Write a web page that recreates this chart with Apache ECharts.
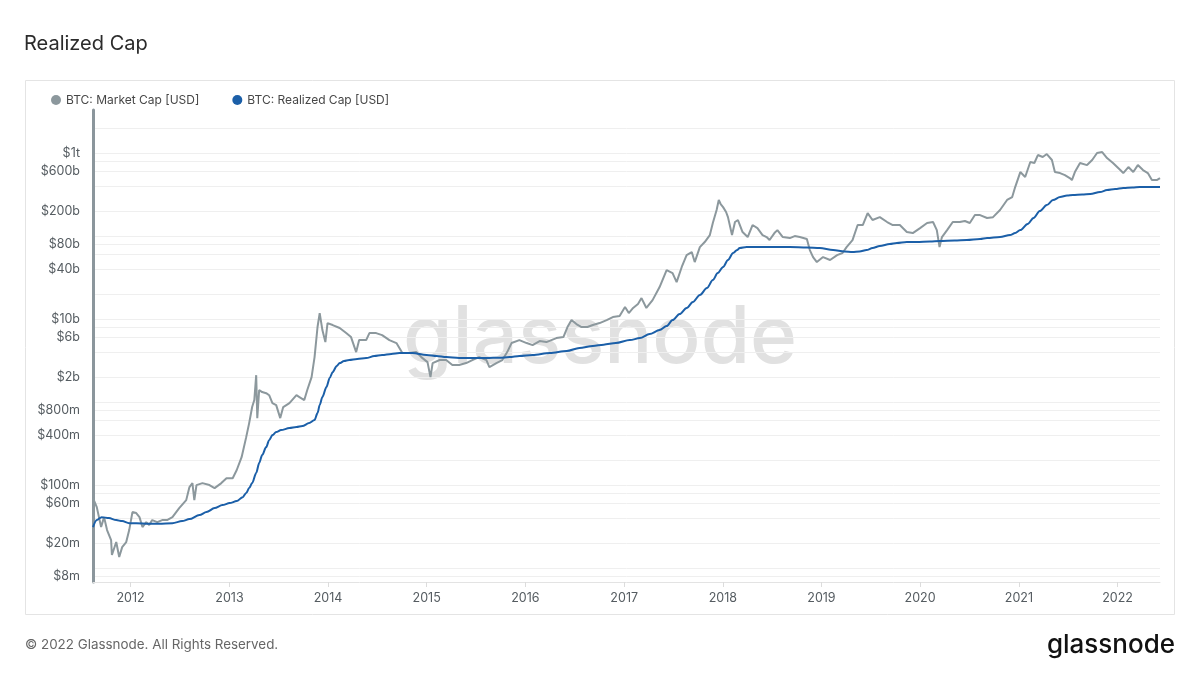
<!DOCTYPE html>
<html>
<head>
<meta charset="utf-8">
<script src="https://cdn.jsdelivr.net/npm/echarts@6/dist/echarts.min.js"></script>
<style>
  html, body { margin: 0; padding: 0; background: #ffffff; }
  #chart { width: 1200px; height: 675px; }
</style>
</head>
<body>
<div id="chart"></div>
<script>
// ---- Data ----
const mcDates = [
  '2011-08-15','2011-08-19','2011-08-29','2011-09-14','2011-09-25','2011-10-06','2011-10-21','2011-10-24','2011-11-09','2011-11-20',
  '2011-12-01','2011-12-16','2011-12-27','2012-01-08','2012-01-22','2012-02-03','2012-02-14','2012-02-28','2012-03-10','2012-03-21',
  '2012-04-09','2012-04-27','2012-05-15','2012-06-04','2012-06-29','2012-07-25','2012-08-06','2012-08-17','2012-08-24','2012-09-01',
  '2012-09-23','2012-10-19','2012-11-07','2012-12-02','2012-12-21','2013-01-13','2013-01-28','2013-02-15','2013-03-04','2013-03-15',
  '2013-03-26','2013-04-03','2013-04-10','2013-04-14','2013-04-21','2013-05-02','2013-05-17','2013-05-28','2013-06-09','2013-06-23',
  '2013-07-08','2013-07-19','2013-08-11','2013-09-06','2013-09-17','2013-10-05','2013-10-16','2013-11-01','2013-11-12','2013-11-23',
  '2013-12-01','2013-12-11','2013-12-22','2013-12-30','2014-01-18','2014-02-13','2014-03-09','2014-03-27','2014-04-15','2014-04-26',
  '2014-05-22','2014-06-03','2014-06-28','2014-07-20','2014-08-16','2014-09-11','2014-10-03','2014-10-29','2014-11-24','2014-12-12',
  '2015-01-04','2015-01-15','2015-01-23','2015-02-18','2015-03-14','2015-04-06','2015-05-01','2015-05-27','2015-06-19','2015-07-14',
  '2015-08-10','2015-08-21','2015-09-16','2015-10-08','2015-10-26','2015-11-11','2015-12-10','2016-01-06','2016-01-28','2016-02-23',
  '2016-03-19','2016-04-25','2016-05-21','2016-06-05','2016-06-20','2016-07-08','2016-07-27','2016-08-18','2016-09-07','2016-10-02',
  '2016-10-28','2016-11-20','2016-12-15','2017-01-04','2017-01-18','2017-02-03','2017-02-21','2017-03-06','2017-03-24','2017-04-16',
  '2017-05-12','2017-06-07','2017-06-29','2017-07-14','2017-08-02','2017-08-20','2017-09-08','2017-09-19','2017-10-08','2017-10-26',
  '2017-11-14','2017-11-25','2017-12-09','2017-12-17','2017-12-24','2018-01-02','2018-01-13','2018-01-20','2018-02-04','2018-02-15',
  '2018-02-26','2018-03-15','2018-04-03','2018-04-21','2018-05-09','2018-05-28','2018-06-12','2018-06-23','2018-07-11','2018-07-22',
  '2018-08-11','2018-09-06','2018-09-24','2018-10-13','2018-11-08','2018-11-19','2018-12-01','2018-12-15','2019-01-07','2019-02-02',
  '2019-02-28','2019-03-20','2019-04-04','2019-04-26','2019-05-15','2019-06-03','2019-06-21','2019-07-09','2019-08-05','2019-09-01',
  '2019-09-22','2019-10-18','2019-11-13','2019-12-05','2020-01-01','2020-01-27','2020-02-18','2020-03-03','2020-03-13','2020-03-22',
  '2020-04-10','2020-05-01','2020-05-27','2020-06-15','2020-07-03','2020-07-22','2020-08-10','2020-09-05','2020-09-27','2020-10-23',
  '2020-11-18','2020-12-07','2020-12-18','2021-01-06','2021-01-24','2021-02-12','2021-02-27','2021-03-12','2021-03-30','2021-04-14',
  '2021-05-03','2021-05-14','2021-06-02','2021-06-20','2021-07-08','2021-07-16','2021-07-27','2021-08-15','2021-09-10','2021-09-29',
  '2021-10-17','2021-11-05','2021-11-23','2021-12-15','2022-01-11','2022-01-22','2022-02-10','2022-02-28','2022-03-17','2022-04-05',
  '2022-04-23','2022-05-08','2022-05-26','2022-06-07'
];
const mcValues = [
  6.97e7,7.16e7,5.43e7,3.12e7,4.11e7,2.87e7,2.17e7,1.44e7,2.06e7,1.36e7,
  1.79e7,2.06e7,2.87e7,4.73e7,4.60e7,4.11e7,3.12e7,3.58e7,3.30e7,3.79e7,
  3.58e7,3.79e7,3.79e7,4.11e7,5.28e7,6.59e7,9.46e7,1.057e8,6.59e7,1.0e8,
  1.057e8,1.0e8,9.20e7,1.057e8,1.21e8,1.21e8,1.52e8,2.17e8,3.78e8,5.58e8,
  8.71e8,1.057e9,2.11e9,6.41e8,1.40e9,1.32e9,1.28e9,1.21e9,9.73e8,9.20e8,
  6.41e8,8.71e8,9.73e8,1.21e9,1.15e9,1.057e9,1.40e9,2.00e9,3.48e9,8.02e9,
  1.18e10,7.37e9,5.28e9,8.95e9,8.47e9,7.80e9,6.78e9,6.07e9,4.00e9,5.58e9,
  5.58e9,6.78e9,6.78e9,6.41e9,5.58e9,5.14e9,3.89e9,3.89e9,4.00e9,3.48e9,
  3.03e9,2.00e9,2.95e9,3.21e9,3.21e9,2.79e9,2.79e9,2.95e9,3.21e9,3.48e9,
  3.21e9,2.64e9,2.95e9,3.21e9,4.00e9,5.14e9,5.58e9,5.14e9,4.86e9,5.43e9,
  5.28e9,5.90e9,6.07e9,8.02e9,9.72e9,8.71e9,8.02e9,8.02e9,8.47e9,8.95e9,
  9.72e9,1.057e10,1.086e10,1.40e10,1.18e10,1.36e10,1.52e10,1.79e10,1.36e10,1.69e10,
  2.43e10,3.89e10,3.58e10,2.79e10,4.24e10,5.90e10,6.41e10,4.86e10,7.36e10,8.47e10,
  1.028e11,1.435e11,2.06e11,2.72e11,2.43e11,2.23e11,1.95e11,1.69e11,1.028e11,1.475e11,
  1.56e11,1.117e11,9.73e10,1.358e11,1.248e11,1.028e11,9.73e10,8.95e10,1.086e11,1.18e11,
  9.73e10,9.46e10,1.0e11,9.73e10,9.20e10,6.78e10,5.58e10,4.86e10,5.58e10,5.14e10,
  5.90e10,6.24e10,7.36e10,8.95e10,1.358e11,1.358e11,1.89e11,1.56e11,1.69e11,1.475e11,
  1.358e11,1.358e11,1.117e11,1.086e11,1.248e11,1.435e11,1.475e11,1.18e11,7.36e10,9.73e10,
  1.18e11,1.475e11,1.475e11,1.52e11,1.435e11,1.79e11,1.79e11,1.65e11,1.69e11,2.06e11,
  2.72e11,2.95e11,3.89e11,5.90e11,5.14e11,7.80e11,7.59e11,9.46e11,8.95e11,9.72e11,
  8.24e11,5.90e11,5.74e11,5.43e11,5.00e11,4.73e11,5.90e11,7.59e11,7.16e11,8.24e11,
  1.0e12,1.028e12,8.71e11,7.59e11,6.24e11,5.74e11,6.78e11,5.90e11,7.16e11,6.24e11,
  5.74e11,4.73e11,4.73e11,5.00e11
];
const rcDates = [
  '2011-08-15','2011-08-29','2011-09-16','2011-10-13','2011-11-09','2011-12-01','2011-12-27','2012-01-22','2012-03-10','2012-04-16',
  '2012-06-04','2012-07-10','2012-08-06','2012-09-12','2012-10-08','2012-11-07','2012-12-06','2013-01-02','2013-01-28','2013-02-19',
  '2013-03-04','2013-03-15','2013-03-26','2013-04-10','2013-04-21','2013-05-02','2013-05-17','2013-05-28','2013-06-09','2013-06-23',
  '2013-07-11','2013-08-11','2013-09-06','2013-09-28','2013-10-23','2013-11-12','2013-11-23','2013-12-01','2013-12-11','2013-12-26',
  '2014-01-07','2014-01-18','2014-02-02','2014-02-13','2014-03-01','2014-03-20','2014-04-19','2014-05-22','2014-06-21','2014-07-20',
  '2014-08-23','2014-09-22','2014-11-09','2015-01-01','2015-02-07','2015-03-14','2015-05-01','2015-06-19','2015-08-10','2015-09-27',
  '2015-11-04','2015-12-10','2016-01-28','2016-04-01','2016-06-02','2016-07-19','2016-09-07','2016-10-17','2016-12-01','2017-01-22',
  '2017-02-28','2017-04-05','2017-05-12','2017-06-07','2017-06-29','2017-07-25','2017-08-20','2017-09-12','2017-10-08','2017-11-03',
  '2017-11-25','2017-12-13','2018-01-02','2018-01-20','2018-02-08','2018-02-23','2018-03-04','2018-03-30','2018-05-17','2018-07-04',
  '2018-09-06','2018-11-08','2018-12-26','2019-02-13','2019-03-27','2019-04-26','2019-05-22','2019-06-17','2019-07-09','2019-08-05',
  '2019-09-11','2019-10-07','2019-11-13','2019-12-20','2020-02-07','2020-03-14','2020-05-08','2020-06-22','2020-08-10','2020-09-05',
  '2020-10-23','2020-11-29','2020-12-18','2021-01-06','2021-02-02','2021-02-24','2021-03-19','2021-04-14','2021-05-07','2021-06-02',
  '2021-06-28','2021-07-20','2021-08-23','2021-09-22','2021-10-28','2021-11-23','2021-12-23','2022-01-22','2022-02-25','2022-03-24',
  '2022-05-01','2022-06-07'
];
const rcValues = [
  3.12e7,3.79e7,4.11e7,4.0e7,3.79e7,3.68e7,3.48e7,3.48e7,3.43e7,3.43e7,
  3.48e7,3.68e7,3.89e7,4.36e7,4.73e7,5.28e7,5.74e7,6.07e7,6.41e7,7.16e7,
  8.02e7,9.20e7,1.057e8,1.40e8,1.84e8,2.30e8,2.87e8,3.48e8,4.00e8,4.36e8,
  4.60e8,4.86e8,5.00e8,5.14e8,5.58e8,6.07e8,7.37e8,9.20e8,1.15e9,1.52e9,
  1.95e9,2.30e9,2.72e9,2.95e9,3.12e9,3.21e9,3.30e9,3.39e9,3.58e9,3.68e9,
  3.79e9,3.89e9,3.89e9,3.68e9,3.58e9,3.48e9,3.39e9,3.39e9,3.39e9,3.43e9,
  3.48e9,3.58e9,3.68e9,3.89e9,4.11e9,4.48e9,4.73e9,4.92e9,5.14e9,5.58e9,
  5.90e9,6.59e9,7.37e9,8.24e9,9.72e9,1.148e10,1.36e10,1.60e10,1.95e10,2.36e10,
  2.95e10,3.58e10,4.24e10,5.14e10,6.24e10,6.78e10,7.16e10,7.36e10,7.36e10,7.36e10,
  7.36e10,7.26e10,7.16e10,6.78e10,6.5e10,6.41e10,6.5e10,6.78e10,7.16e10,7.59e10,
  8.02e10,8.24e10,8.47e10,8.47e10,8.6e10,8.71e10,8.83e10,8.95e10,9.20e10,9.46e10,
  9.73e10,1.028e11,1.086e11,1.18e11,1.396e11,1.65e11,2.00e11,2.36e11,2.72e11,2.95e11,
  3.08e11,3.12e11,3.16e11,3.21e11,3.39e11,3.58e11,3.68e11,3.79e11,3.84e11,3.89e11,
  3.89e11,3.89e11
];
const yLabelValues = [8e6, 2e7, 6e7, 1e8, 4e8, 8e8, 2e9, 6e9, 1e10, 4e10, 8e10, 2e11, 6e11, 1e12];
const yGridValues = [
  8e6, 1e7, 2e7, 4e7, 6e7, 8e7, 1e8, 2e8, 4e8, 6e8, 8e8, 1e9, 2e9, 4e9, 6e9, 8e9,
  1e10, 2e10, 4e10, 6e10, 8e10, 1e11, 2e11, 4e11, 6e11, 8e11, 1e12, 2e12
];
const seriesNames = ['BTC: Market Cap [USD]', 'BTC: Realized Cap [USD]'];

// ---- Build ----
const zip = (d, v) => d.map((t, i) => [t, v[i]]);
function fmtUsd(v) {
  if (v >= 1e12) return '$' + Math.round(v / 1e12) + 't';
  if (v >= 1e9) return '$' + Math.round(v / 1e9) + 'b';
  return '$' + Math.round(v / 1e6) + 'm';
}
const FONT = 'Inter, "Noto Sans", sans-serif';
const YEAR_MS = 365 * 24 * 3600 * 1000;
const chart = echarts.init(document.getElementById('chart'), null, { renderer: 'canvas' });
chart.setOption({
  animation: false,
  backgroundColor: '#ffffff',
  textStyle: { fontFamily: FONT },
  title: {
    text: 'Realized Cap',
    left: 19, top: 29,
    textStyle: { fontFamily: FONT, fontSize: 20, fontWeight: 'normal', color: '#2b2b2b' }
  },
  legend: {
    left: 46, top: 89,
    icon: 'circle', itemWidth: 10, itemHeight: 10, itemGap: 33,
    textStyle: { fontFamily: FONT, fontSize: 12, color: '#474747' },
    data: seriesNames
  },
  grid: { left: 93, right: 40, top: 110, bottom: 93, containLabel: false },
  xAxis: {
    type: 'time',
    min: mcDates[0], max: mcDates[mcDates.length - 1],
    minInterval: YEAR_MS, maxInterval: YEAR_MS + 2 * 24 * 3600 * 1000,
    axisLine: { show: true, lineStyle: { color: '#e3e3e3', width: 1 } },
    axisTick: { show: true, length: 5, lineStyle: { color: '#dcdcdc' } },
    axisLabel: {
      formatter: '{yyyy}',
      color: '#555c61', fontSize: 12.5, fontFamily: FONT, margin: 10,
      showMinLabel: false, showMaxLabel: false
    },
    splitLine: { show: false }
  },
  yAxis: {
    type: 'log', logBase: 10,
    min: 6.8e6, max: 3.3e12,
    axisLine: { show: true, lineStyle: { color: '#8b969c', width: 3 } },
    axisTick: { show: false, customValues: yGridValues },
    axisLabel: {
      customValues: yLabelValues,
      formatter: fmtUsd,
      color: '#555c61', fontSize: 12.5, fontFamily: FONT, margin: 13
    },
    splitLine: { show: true, lineStyle: { color: '#efefef', width: 1 } }
  },
  graphic: [
    { type: 'rect', silent: true, z: -10,
      shape: { x: 25.5, y: 80.5, width: 1149, height: 534 },
      style: { fill: 'none', stroke: '#e4e4e4', lineWidth: 1 } },
    { type: 'text', silent: true, z: 0,
      style: { x: 600, y: 339, text: 'glassnode', fill: '#e1e1e1', font: '500 80px Inter', textAlign: 'center', textVerticalAlign: 'middle' } },
    { type: 'text', silent: true,
      style: { x: 25, y: 645, text: '© 2022 Glassnode. All Rights Reserved.', fill: '#666666', font: '13.4px Inter', textAlign: 'left', textVerticalAlign: 'middle' } },
    { type: 'text', silent: true,
      style: { x: 1175, y: 645, text: 'glassnode', fill: '#111111', font: '500 26px Inter', textAlign: 'right', textVerticalAlign: 'middle' } }
  ],
  series: [
    { name: seriesNames[0], type: 'line', data: zip(mcDates, mcValues), showSymbol: false, symbol: 'circle',
      itemStyle: { color: '#8c989d' }, lineStyle: { color: '#8c989d', width: 2 }, z: 3 },
    { name: seriesNames[1], type: 'line', data: zip(rcDates, rcValues), showSymbol: false, symbol: 'circle',
      smooth: 0.3, smoothMonotone: 'x',
      itemStyle: { color: '#1b5fa8' }, lineStyle: { color: '#1b5fa8', width: 2 }, z: 4 }
  ]
});
</script>
</body>
</html>
